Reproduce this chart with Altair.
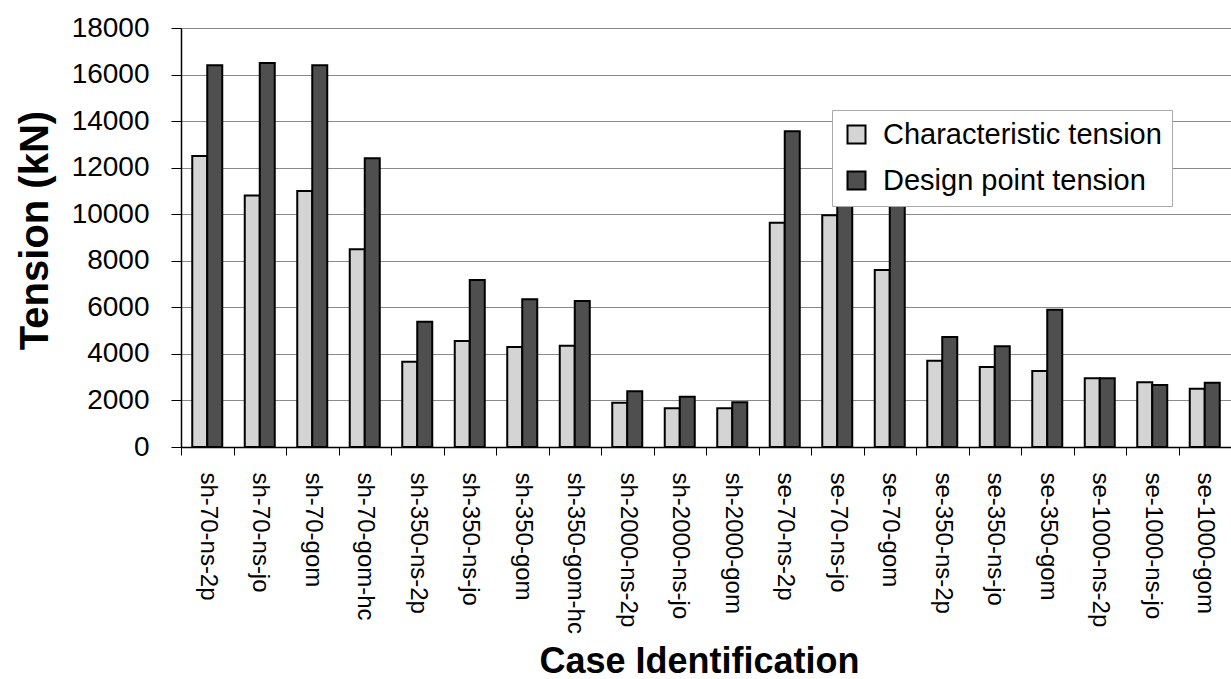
import altair as alt
import pandas as pd

cases = ["sh-70-ns-2p", "sh-70-ns-jo", "sh-70-gom", "sh-70-gom-hc",
         "sh-350-ns-2p", "sh-350-ns-jo", "sh-350-gom", "sh-350-gom-hc",
         "sh-2000-ns-2p", "sh-2000-ns-jo", "sh-2000-gom",
         "se-70-ns-2p", "se-70-ns-jo", "se-70-gom",
         "se-350-ns-2p", "se-350-ns-jo", "se-350-gom",
         "se-1000-ns-2p", "se-1000-ns-jo", "se-1000-gom"]
characteristic = [12500, 10800, 11000, 8500, 3660, 4550, 4300, 4350, 1900, 1660,
                  1660, 9630, 9960, 7600, 3700, 3440, 3270, 2950, 2780, 2500]
design_point = [16400, 16500, 16400, 12400, 5380, 7170, 6350, 6270, 2400, 2160,
                1920, 13560, 10600, 10600, 4730, 4330, 5900, 2950, 2660, 2760]
series = ["Characteristic tension", "Design point tension"]
y_ticks = [0, 2000, 4000, 6000, 8000, 10000, 12000, 14000, 16000, 18000]

rows = []
for c, a, b in zip(cases, characteristic, design_point):
    rows.append({"case": c, "series": series[0], "value": a})
    rows.append({"case": c, "series": series[1], "value": b})
df = pd.DataFrame(rows)

FONT = "Liberation Sans"

chart = alt.Chart(df).mark_bar(stroke="black", strokeWidth=2).encode(
    x=alt.X("case:N", sort=cases,
            scale=alt.Scale(paddingInner=0, paddingOuter=0),
            axis=alt.Axis(title="Case Identification", labelAngle=90,
                          labelAlign="left", labelBaseline="middle",
                          labelFontSize=24, labelFont=FONT, labelColor="black",
                          labelPadding=17, tickSize=8, tickColor="black",
                          tickBand="extent", domainColor="black", domainWidth=1.5,
                          titleFont=FONT, titleFontSize=36, titleFontWeight="bold",
                          titleColor="black", titleBaseline="top", titleY=197,
                          titleX=518, grid=False)),
    xOffset=alt.XOffset("series:N", sort=series,
                        scale=alt.Scale(paddingInner=0, paddingOuter=0.75)),
    y=alt.Y("value:Q", scale=alt.Scale(domain=[0, 18000], nice=False),
            axis=alt.Axis(title="Tension (kN)", values=y_ticks, format="d",
                          labelFontSize=28, labelFont=FONT, labelColor="black",
                          labelPadding=22, tickSize=10, tickColor="black",
                          domainColor="black", domainWidth=1.5,
                          grid=True, gridColor="#8a8a8a", gridWidth=1,
                          titleFont=FONT, titleFontSize=40, titleFontWeight="bold",
                          titleColor="black", titleAngle=-90, titleAlign="center",
                          titleBaseline="middle", titleX=-146, titleY=202)),
    color=alt.Color("series:N", sort=series,
                    scale=alt.Scale(domain=series, range=["#d4d4d4", "#4f4f4f"]),
                    legend=alt.Legend(title=None, orient="none", legendX=651, legendY=82,
                                      symbolType="square", symbolSize=324,
                                      symbolStrokeColor="black", symbolStrokeWidth=2,
                                      labelFont=FONT, labelFontSize=29, labelColor="black",
                                      labelOffset=12, rowPadding=16, labelLimit=0,
                                      fillColor="white", strokeColor="#aaaaaa",
                                      padding=10, offset=0)),
).properties(
    width=1050, height=419,
    autosize=alt.AutoSizeParams(type="none"),
    padding={"left": 181, "top": 28, "right": 0, "bottom": 232},
).configure_view(stroke="#555555", strokeWidth=1).configure(background="white")

chart.save("out.html", embed_options={"renderer": "svg", "actions": False})
